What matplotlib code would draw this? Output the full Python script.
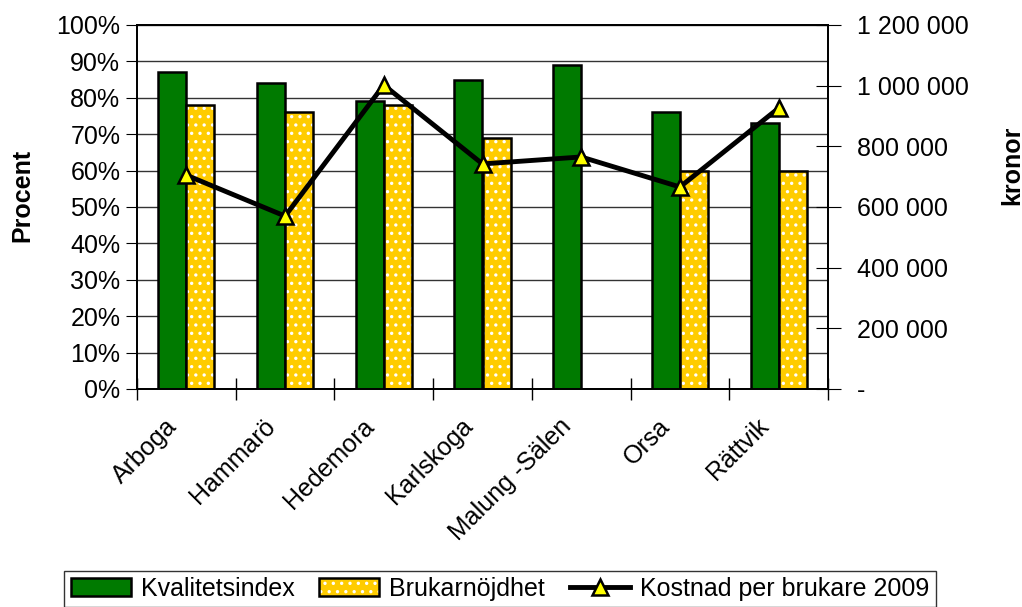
import numpy as np
import matplotlib
matplotlib.use("Agg")
import matplotlib.pyplot as plt
import matplotlib.transforms as mtransforms
from matplotlib.ticker import FuncFormatter, MultipleLocator
from matplotlib.legend_handler import HandlerTuple

plt.rcParams['font.family'] = ['Liberation Sans', 'DejaVu Sans']
plt.rcParams['hatch.linewidth'] = 1.2

kommuner = ['Arboga', 'Hammarö', 'Hedemora', 'Karlskoga', 'Malung -Sälen', 'Orsa', 'Rättvik']
kvalitetsindex = [87, 84, 79, 85, 89, 76, 73]
brukarnojdhet = [78, 76, 78, 69, np.nan, 60, 60]
kostnad = [705000, 570000, 1002000, 742000, 765000, 666000, 926000]

GREEN = '#007A00'
YELLOW = '#FFCC00'
FS = 18

fig = plt.figure(figsize=(10.22, 6.07), dpi=100)
ax = fig.add_axes([137 / 1022, 1 - 389 / 607, 691 / 1022, 364 / 607])
ax2 = ax.twinx()

x = np.arange(len(kommuner))
w = 0.284
gbars = ax.bar(x - w / 2, kvalitetsindex, w, color=GREEN, edgecolor='black', linewidth=1.8, zorder=3)
# yellow bars: white dotted hatch first, then a black outline on top
ybars = ax.bar(x + w / 2, brukarnojdhet, w, color=YELLOW, edgecolor='white', linewidth=0,
               hatch='..', zorder=3)
yedge = ax.bar(x + w / 2, brukarnojdhet, w, color='none', edgecolor='black', linewidth=1.8, zorder=3.1)

ax.set_ylim(0, 100)
ax.set_xlim(-0.5, len(kommuner) - 0.5)
ax.yaxis.set_major_locator(MultipleLocator(10))
ax.yaxis.set_major_formatter(FuncFormatter(lambda v, p: f'{int(v)}%'))
ax.grid(axis='y', color='#333333', linewidth=1.0, zorder=0)
ax.set_axisbelow(True)

# category labels, rotated, placed below the axis
ax.set_xticks(x)
ax.set_xticklabels([])
ax.tick_params(axis='x', which='major', length=0)
off = mtransforms.ScaledTranslation(-22 / 100, -25 / 100, fig.dpi_scale_trans)
for xi, name in zip(x, kommuner):
    ax.text(xi, 0, name, transform=ax.get_xaxis_transform() + off, rotation=45,
            ha='right', va='top', rotation_mode='anchor', fontsize=FS)
ax.set_xticks(np.arange(-0.5, len(kommuner)), minor=True)
ax.tick_params(axis='x', which='minor', length=16, direction='inout', width=1)
ax.tick_params(axis='y', labelsize=FS, direction='out', length=8, pad=4)

line, = ax2.plot(x, kostnad, color='black', linewidth=3.5, marker='^', markersize=12,
                 markerfacecolor='#FFFF00', markeredgecolor='black', markeredgewidth=1.8, zorder=5)
ax2.set_ylim(0, 1200000)
ax2.yaxis.set_major_locator(MultipleLocator(200000))


def kr_fmt(v, p):
    if v == 0:
        return '-'
    return f'{int(v):,}'.replace(',', ' ')


ax2.yaxis.set_major_formatter(FuncFormatter(kr_fmt))
ax2.tick_params(axis='y', labelsize=FS, direction='inout', length=18, pad=12)
ax.set_zorder(1)
ax2.set_zorder(2)
ax2.patch.set_visible(False)

for a in (ax, ax2):
    for s in a.spines.values():
        s.set_linewidth(1.3)

fig.text(22 / 1022, 1 - 195 / 607, 'Procent', rotation=90, ha='center', va='center',
         fontsize=FS, fontweight='bold')
fig.text(1012 / 1022, 1 - 165 / 607, 'kronor', rotation=90, ha='center', va='center',
         fontsize=FS, fontweight='bold')

handles = [gbars[0], (ybars[0], yedge[0]), line]
labels = ['Kvalitetsindex', 'Brukarnöjdhet', 'Kostnad per brukare 2009']
leg = fig.legend(handles, labels, loc='lower center', bbox_to_anchor=(500 / 1022, 0.0),
                 ncol=3, fontsize=FS, frameon=True, fancybox=False, edgecolor='black',
                 handlelength=2.4, handletextpad=0.4, columnspacing=1.0,
                 borderpad=0.25, borderaxespad=0.0,
                 handler_map={tuple: HandlerTuple(ndivide=1)})
leg.get_frame().set_linewidth(1.0)

fig.savefig('out.png', dpi=100)
